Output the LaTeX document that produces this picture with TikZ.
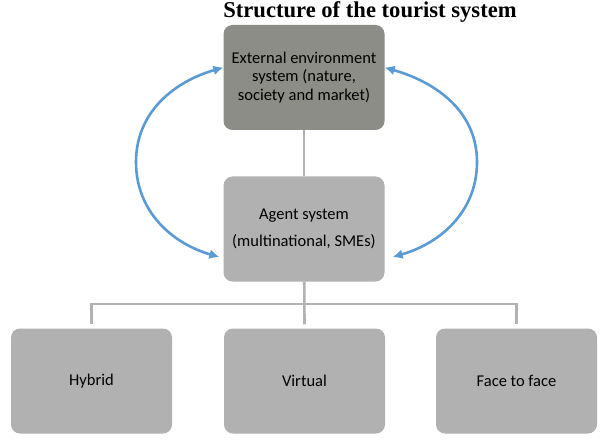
\documentclass[tikz,border=0pt]{standalone}
\usepackage{fontspec}
\setmainfont{Carlito}
\newfontfamily\titlefont{Liberation Serif}
\usetikzlibrary{arrows.meta}
\definecolor{envgray}{RGB}{140,141,134}
\definecolor{boxgray}{RGB}{178,177,178}
\definecolor{linegray}{RGB}{178,178,178}
\definecolor{arrowblue}{RGB}{91,155,213}
\tikzset{
  sysbox/.style={rounded corners=9pt, minimum width=161pt, minimum height=105pt, inner sep=0pt, align=center, font=\fontsize{16.5}{18.5}\selectfont},
  treeline/.style={line width=2.6pt, draw=linegray},
  feedback/.style={line width=2.6pt, draw=arrowblue, {Latex[length=10pt,width=10pt]}-{Latex[length=10pt,width=10pt]}}
}

\begin{document}
\begin{tikzpicture}[x=1pt, y=-1pt]
	\useasboundingbox (0,0) rectangle (607,446);
	\node[anchor=base, font=\titlefont\bfseries\fontsize{22.6}{26}\selectfont](title) at (370, 18){Structure of the tourist system};
	\node[sysbox, fill=envgray](env) at (304, 77.5){External environment\\system (nature,\\society and market)};
	\node[sysbox, fill=boxgray](agent) at (304, 229){Agent system\\[8.5pt](multinational, SMEs)};
	\node[sysbox, fill=boxgray](hybrid) at (91.5, 381){Hybrid};
	\node[sysbox, fill=boxgray](virtual) at (304.5, 381){Virtual};
	\node[sysbox, fill=boxgray](face) at (516.5, 381){Face to face};
	\coordinate (bus) at (304, 304);
	\coordinate (lbend) at (136, 162);
	\coordinate (rbend) at (477, 162);
	\draw[treeline](env)--(agent);
	\draw[treeline](agent)--([yshift=4pt]virtual.north);
	\draw[treeline]([yshift=4pt]hybrid.north)|-(bus)-|([yshift=4pt]face.north);
	\draw[feedback]([yshift=10pt]env.west) to[out=196, in=90] (lbend) to[out=-90, in=164] ([xshift=-4pt, yshift=-28pt]agent.west);
	\draw[feedback]([yshift=10pt]env.east) to[out=-16, in=90] (rbend) to[out=-90, in=16] ([xshift=8pt, yshift=-28pt]agent.east);
\end{tikzpicture}
\end{document}
